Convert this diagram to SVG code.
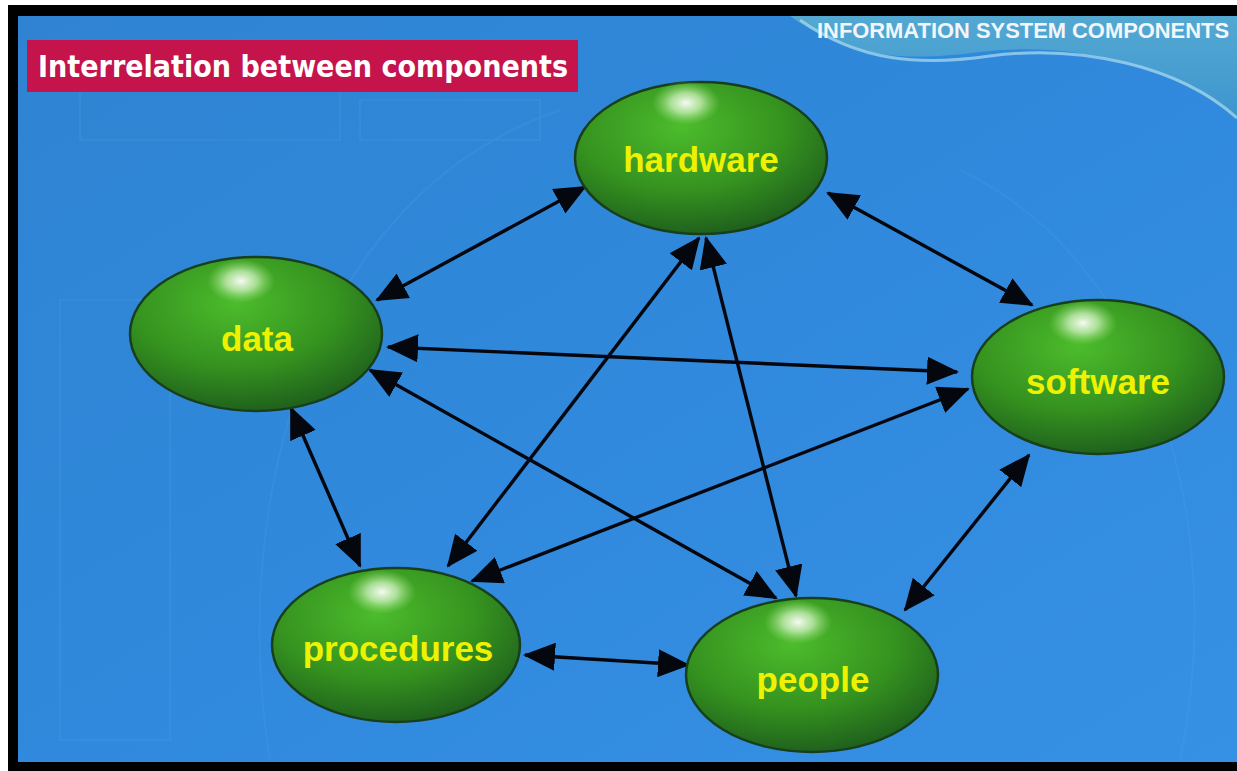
<svg xmlns="http://www.w3.org/2000/svg" width="1237" height="771" viewBox="0 0 1237 771">
<style>
.lbl{font-family:"Liberation Sans","DejaVu Sans",sans-serif;font-weight:bold;font-size:35px;fill:#eef200;text-anchor:middle}
.ttl{font-family:"DejaVu Sans","Liberation Sans",sans-serif;font-size:30px;font-weight:bold;fill:#ffffff}
.hdr{font-family:"Liberation Sans","DejaVu Sans",sans-serif;font-weight:bold;font-size:22px;fill:#f2f6fa}
.node ellipse.body{fill:url(#gball);stroke:#173f1c;stroke-width:2.5}
.node ellipse.hl{fill:url(#ghl)}
.conn line{stroke:#05070f;stroke-width:3.4;marker-start:url(#ah);marker-end:url(#ah)}
</style>
<defs>
<radialGradient id="gball" cx="0.42" cy="0.3" r="0.75">
<stop offset="0" stop-color="#4cbc2c"/>
<stop offset="0.55" stop-color="#35921f"/>
<stop offset="1" stop-color="#1c5a1c"/>
</radialGradient>
<radialGradient id="ghl" cx="0.5" cy="0.5" r="0.5">
<stop offset="0" stop-color="#ffffff" stop-opacity="0.95"/>
<stop offset="0.45" stop-color="#d8f5c8" stop-opacity="0.7"/>
<stop offset="1" stop-color="#9be27a" stop-opacity="0"/>
</radialGradient>
<linearGradient id="gbg" x1="0" y1="0" x2="1" y2="1">
<stop offset="0" stop-color="#2f83d2"/>
<stop offset="0.5" stop-color="#3089dc"/>
<stop offset="1" stop-color="#3690e4"/>
</linearGradient>
<linearGradient id="ghdr" x1="0" y1="0" x2="0" y2="1">
<stop offset="0" stop-color="#5aaed0"/>
<stop offset="1" stop-color="#3f97cc"/>
</linearGradient>
<marker id="ah" viewBox="0 0 32 28" refX="30" refY="14" markerWidth="32" markerHeight="28" markerUnits="userSpaceOnUse" orient="auto-start-reverse">
<path d="M0,0 L32,14 L0,28 Z" fill="#05070f"/>
</marker>
</defs>
<rect x="0" y="0" width="1237" height="771" fill="#ffffff"/>
<rect x="8" y="5" width="1229" height="766" fill="#000000"/>
<rect x="18" y="16" width="1219" height="746" fill="url(#gbg)"/>
<g opacity="0.06" fill="none" stroke="#bfe0ff" stroke-width="2">
<path d="M270,760 C230,520 300,200 560,110"/>
<path d="M1180,760 C1230,520 1150,260 960,170"/>
<rect x="60" y="300" width="110" height="440"/>
<rect x="80" y="80" width="260" height="60"/>
<rect x="360" y="100" width="180" height="40"/>
</g>
<path d="M790,16 L1237,16 L1237,120 C1180,70 1080,40 980,52 C900,62 850,58 790,16 Z" fill="url(#ghdr)" opacity="0.85"/>
<path d="M800,20 C860,62 920,66 990,56 C1080,44 1180,66 1237,118" fill="none" stroke="#9fd3ec" stroke-width="3" opacity="0.8"/>
<text class="hdr" x="817" y="38" textLength="412" lengthAdjust="spacingAndGlyphs">INFORMATION SYSTEM COMPONENTS</text>
<rect x="27" y="40" width="551" height="52" fill="#c5134b"/>
<text class="ttl" x="38" y="77" textLength="530" lengthAdjust="spacingAndGlyphs">Interrelation between components</text>
<g class="conn" id="connectors">
<line x1="377" y1="300" x2="585" y2="187"/>
<line x1="828" y1="193" x2="1032" y2="305"/>
<line x1="388" y1="347" x2="957" y2="372"/>
<line x1="291" y1="408" x2="360" y2="566"/>
<line x1="370" y1="370" x2="776" y2="598"/>
<line x1="699" y1="238" x2="448" y2="566"/>
<line x1="706" y1="238" x2="796" y2="596"/>
<line x1="968" y1="389" x2="472" y2="581"/>
<line x1="1029" y1="455" x2="905" y2="610"/>
<line x1="525" y1="655" x2="688" y2="665"/>
</g>
<g class="node" id="hardware">
<ellipse class="body" cx="701" cy="158" rx="126" ry="76"/>
<ellipse class="hl" cx="686" cy="103" rx="34" ry="22"/>
<text class="lbl" x="701" y="172">hardware</text>
</g>
<g class="node" id="data">
<ellipse class="body" cx="256" cy="334" rx="126" ry="77"/>
<ellipse class="hl" cx="241" cy="281" rx="34" ry="22"/>
<text class="lbl" x="257" y="351">data</text>
</g>
<g class="node" id="software">
<ellipse class="body" cx="1098" cy="377" rx="126" ry="77"/>
<ellipse class="hl" cx="1083" cy="323" rx="34" ry="22"/>
<text class="lbl" x="1098" y="394">software</text>
</g>
<g class="node" id="procedures">
<ellipse class="body" cx="396" cy="645" rx="124" ry="77"/>
<ellipse class="hl" cx="382" cy="592" rx="34" ry="22"/>
<text class="lbl" x="398" y="661">procedures</text>
</g>
<g class="node" id="people">
<ellipse class="body" cx="812" cy="675" rx="126" ry="77"/>
<ellipse class="hl" cx="798" cy="622" rx="34" ry="22"/>
<text class="lbl" x="813" y="692">people</text>
</g>
</svg>
